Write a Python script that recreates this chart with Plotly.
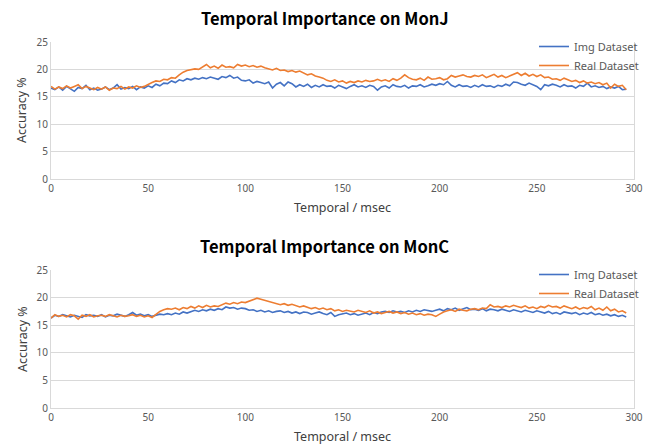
import plotly.graph_objects as go

# time axis (msec), sampled every 2 msec
time_ms = list(range(0, 297, 2))

monj_img = [
    16.6, 16.3, 16.8, 16.2, 16.9, 16.4, 16.0, 16.7, 16.5, 17.1,
    16.3, 16.6, 16.2, 16.4, 16.8, 16.3, 16.6, 17.2, 16.4, 16.7,
    16.5, 16.9, 16.3, 16.8, 16.6, 17.0, 16.7, 17.3, 17.0, 17.5,
    17.4, 17.9, 17.6, 18.1, 17.9, 18.3, 18.1, 18.4, 18.2, 18.5,
    18.3, 18.6, 18.4, 18.2, 18.7, 18.5, 18.9, 18.4, 18.6, 18.0,
    17.9, 18.1, 17.5, 17.8, 17.6, 17.4, 17.7, 16.6, 17.3, 17.6,
    17.0, 17.7, 17.4, 16.8, 17.2, 16.9, 17.3, 16.7, 17.1, 16.8,
    17.2, 16.9, 17.0, 16.6, 17.1, 16.8, 16.5, 16.9, 17.2, 16.8,
    17.0, 16.7, 17.1, 16.9, 16.2, 16.8, 17.0, 16.6, 17.2, 16.9,
    16.8, 17.1, 16.6, 17.0, 16.9, 17.2, 16.8, 17.0, 17.3, 17.1,
    17.4, 17.2, 17.8, 17.1, 16.8, 17.2, 16.9, 17.0, 16.7, 17.1,
    16.8, 17.2, 16.9, 17.0, 16.7, 17.1, 16.9, 17.3, 17.0, 17.7,
    17.6, 17.3, 17.1, 17.5, 17.2, 16.9, 16.3, 17.2, 17.0, 17.3,
    17.1, 16.8, 17.2, 16.9, 17.0, 16.6, 17.1, 16.9, 17.5, 16.8,
    17.0, 16.7, 16.9, 16.5, 16.8, 16.6, 16.9, 16.3, 16.4,
]

monj_real = [
    16.9, 16.4, 16.8, 16.5, 17.0, 16.6, 16.9, 17.2, 16.5, 16.9,
    16.6, 16.3, 16.7, 16.4, 16.8, 16.2, 16.6, 16.5, 16.9, 16.4,
    16.8, 16.6, 17.0, 16.7, 16.9, 17.3, 17.6, 17.9, 17.8, 18.2,
    18.1, 18.5, 18.4, 19.0, 19.5, 19.8, 19.9, 20.1, 20.0, 20.4,
    20.9, 20.3, 20.6, 20.2, 20.8, 20.4, 20.5, 20.3, 20.9, 20.6,
    20.8, 20.5, 20.7, 20.4, 20.6, 20.3, 20.1, 19.9, 20.2, 19.8,
    19.9, 19.6, 19.8, 19.5, 19.7, 19.3, 19.0, 19.2, 18.8, 18.6,
    18.4, 18.0, 17.8, 18.1, 17.7, 17.9, 17.5, 17.8, 17.6, 17.9,
    17.7, 18.0, 17.8, 17.9, 18.2, 17.9, 18.1, 17.8, 18.3, 18.0,
    18.4, 19.0, 18.5, 18.2, 18.1, 18.4, 18.0, 18.6, 18.2, 18.3,
    18.5, 18.1, 18.3, 18.9, 18.6, 18.8, 19.0, 18.7, 18.6, 18.9,
    18.7, 19.0, 18.5, 18.8, 19.1, 18.6, 18.9, 18.5, 18.8, 19.2,
    19.4, 18.9, 19.3, 18.8, 19.1, 18.7, 19.0, 18.5, 18.6, 18.2,
    18.3, 18.0, 18.4, 18.1, 17.8, 18.0, 17.6, 17.9, 17.5, 17.7,
    17.4, 17.6, 17.2, 17.5, 16.6, 17.3, 16.9, 17.1, 16.3,
]

monc_img = [
    16.3, 16.8, 16.6, 16.9, 16.7, 16.5, 16.8, 16.6, 16.4, 16.9,
    16.7, 16.8, 16.6, 16.9, 16.5, 16.8, 16.7, 17.0, 16.8, 16.6,
    16.9, 17.3, 16.8, 17.0, 16.7, 16.9, 16.6, 16.8, 17.0, 16.9,
    17.1, 16.9, 17.2, 17.0, 17.4, 17.2, 17.5, 17.7, 17.5, 17.8,
    17.6, 17.9, 17.7, 18.0, 17.8, 18.3, 18.1, 18.2, 17.9, 18.1,
    18.0, 17.7, 17.8, 17.5, 17.7, 17.4, 17.6, 17.3, 17.5, 17.6,
    17.3, 17.5, 17.2, 17.4, 17.1, 17.4, 17.3, 17.0, 17.2, 17.4,
    17.1, 16.9, 17.3, 16.6, 16.9, 17.0, 17.2, 16.9, 17.1, 16.8,
    17.0, 17.2, 16.9, 17.3, 17.1, 17.4, 17.5, 17.3, 17.6, 17.4,
    17.5, 17.3, 17.6, 17.4, 17.7, 17.5, 17.8, 17.6, 17.5, 17.7,
    17.9, 17.6, 18.0, 17.8, 18.1, 17.7, 17.9, 18.2, 17.8, 17.9,
    17.7, 18.0, 17.6, 17.9, 17.8, 17.6, 17.9, 17.7, 17.5, 17.8,
    17.6, 17.4, 17.7, 17.5, 17.3, 17.6, 17.4, 17.2, 17.5, 17.1,
    17.3, 17.0, 17.4, 17.2, 17.1, 17.3, 16.9, 17.2, 17.0, 17.3,
    16.9, 17.1, 16.8, 17.0, 16.7, 16.9, 16.6, 16.8, 16.5,
]

monc_real = [
    16.3, 16.9, 16.6, 16.8, 16.5, 16.9, 16.7, 16.1, 16.8, 16.6,
    16.9, 16.5, 16.7, 16.8, 16.6, 16.9, 16.7, 16.5, 16.8, 16.6,
    16.7, 16.9, 16.6, 16.8, 16.5, 16.7, 16.4, 17.0, 17.5, 17.8,
    18.0, 17.9, 18.1, 17.8, 18.2, 18.0, 18.4, 18.1, 18.5, 18.2,
    18.6, 18.3, 18.5, 18.4, 18.7, 19.0, 18.8, 19.1, 18.9, 19.2,
    19.1, 19.4, 19.6, 19.9, 19.7, 19.5, 19.3, 19.0, 18.9, 18.7,
    18.9, 18.6, 18.8, 18.5, 18.3, 18.5, 18.2, 18.0, 18.2, 17.9,
    18.1, 17.8, 18.0, 17.6, 17.8, 17.5, 17.7, 17.6, 17.4, 17.7,
    17.5, 17.3, 17.6, 17.2, 17.4, 17.1, 17.3, 17.5, 17.2, 17.4,
    17.1, 17.3, 17.0, 17.2, 16.9, 17.1, 16.8, 17.0, 16.9, 16.6,
    17.0, 17.4, 17.6, 17.8, 17.5, 17.9, 17.7, 17.6, 17.9, 18.0,
    17.8, 18.1, 18.0, 18.7, 18.3, 18.4, 18.2, 18.5, 18.3, 18.6,
    18.4, 18.2, 18.5, 18.1, 18.3, 18.0, 18.4, 18.2, 18.6, 18.3,
    18.4, 18.1, 18.5, 18.2, 18.0, 18.3, 17.9, 18.2, 18.0, 18.4,
    17.8, 18.1, 17.7, 18.3, 17.6, 17.9, 17.4, 17.6, 17.2,
]

x_ticks = [0, 50, 100, 150, 200, 250, 300]
y_ticks = [0, 5, 10, 15, 20, 25]
titles = ["Temporal Importance on MonJ", "Temporal Importance on MonC"]
series_names = ["Img Dataset", "Real Dataset"]
x_title = "Temporal / msec"
y_title = "Accuracy %"

BLUE = "#4472C4"
ORANGE = "#ED7D31"
W, H = 649, 445

fig = go.Figure()
fig.add_trace(go.Scatter(x=time_ms, y=monj_img, name=series_names[0], mode="lines",
                         line=dict(color=BLUE, width=1.6), xaxis="x", yaxis="y", legend="legend"))
fig.add_trace(go.Scatter(x=time_ms, y=monj_real, name=series_names[1], mode="lines",
                         line=dict(color=ORANGE, width=1.6), xaxis="x", yaxis="y", legend="legend"))
fig.add_trace(go.Scatter(x=time_ms, y=monc_img, name=series_names[0], mode="lines",
                         line=dict(color=BLUE, width=1.6), xaxis="x2", yaxis="y2", legend="legend2"))
fig.add_trace(go.Scatter(x=time_ms, y=monc_real, name=series_names[1], mode="lines",
                         line=dict(color=ORANGE, width=1.6), xaxis="x2", yaxis="y2", legend="legend2"))

xdom = [51 / W, 634 / W]
y1dom = [1 - 179 / H, 1 - 42 / H]
y2dom = [1 - 408 / H, 1 - 270 / H]

tickfont = dict(family="Noto Sans, Arial", size=10, color="#595959")
axis_common = dict(showline=True, linecolor="#D9D9D9", linewidth=1,
                   gridcolor="#D9D9D9", gridwidth=1, ticks="", tickfont=tickfont,
                   zeroline=False, automargin=False)

legend_font = dict(family="Noto Sans, Arial", size=11, color="#595959")
fig.update_layout(
    width=W, height=H,
    margin=dict(l=0, r=0, t=0, b=0, autoexpand=False),
    paper_bgcolor="white", plot_bgcolor="white",
    xaxis=dict(domain=xdom, anchor="y", range=[0, 300], tickvals=x_ticks,
               showgrid=False, **axis_common),
    yaxis=dict(domain=y1dom, anchor="x", range=[0, 25], tickvals=y_ticks,
               mirror=True, **axis_common),
    xaxis2=dict(domain=xdom, anchor="y2", range=[0, 300], tickvals=x_ticks,
                showgrid=False, **axis_common),
    yaxis2=dict(domain=y2dom, anchor="x2", range=[0, 25], tickvals=y_ticks,
                mirror=True, **axis_common),
    legend=dict(x=644 / W, xanchor="right", y=1 - 32 / H, yanchor="top",
                bgcolor="rgba(0,0,0,0)", font=legend_font,
                itemwidth=30, tracegroupgap=0),
    legend2=dict(x=644 / W, xanchor="right", y=1 - 260 / H, yanchor="top",
                 bgcolor="rgba(0,0,0,0)", font=legend_font,
                 itemwidth=30, tracegroupgap=0),
    showlegend=True,
)

title_font = dict(family="Noto Sans CJK SC, Noto Sans", size=16.5, color="#000000")
label_font = dict(family="Noto Sans, Arial", size=12.5, color="#404040")
anns = []
for i, (ty, xty, yty) in enumerate([(18, 207, 110), (246, 436, 339)]):
    anns.append(dict(text="<b>" + titles[i] + "</b>", x=0.5, y=1 - ty / H,
                     xref="paper", yref="paper", showarrow=False, font=title_font,
                     xanchor="center", yanchor="middle"))
    anns.append(dict(text=x_title, x=0.5 * (xdom[0] + xdom[1]), y=1 - xty / H,
                     xref="paper", yref="paper", showarrow=False, font=label_font,
                     xanchor="center", yanchor="middle"))
    anns.append(dict(text=y_title, x=22 / W, y=1 - yty / H, textangle=-90,
                     xref="paper", yref="paper", showarrow=False, font=label_font,
                     xanchor="center", yanchor="middle"))
fig.update_layout(annotations=anns)

fig.write_html("out.html", config={"displayModeBar": False},
               post_script="document.body.style.margin='0px';document.body.style.overflow='hidden';")
